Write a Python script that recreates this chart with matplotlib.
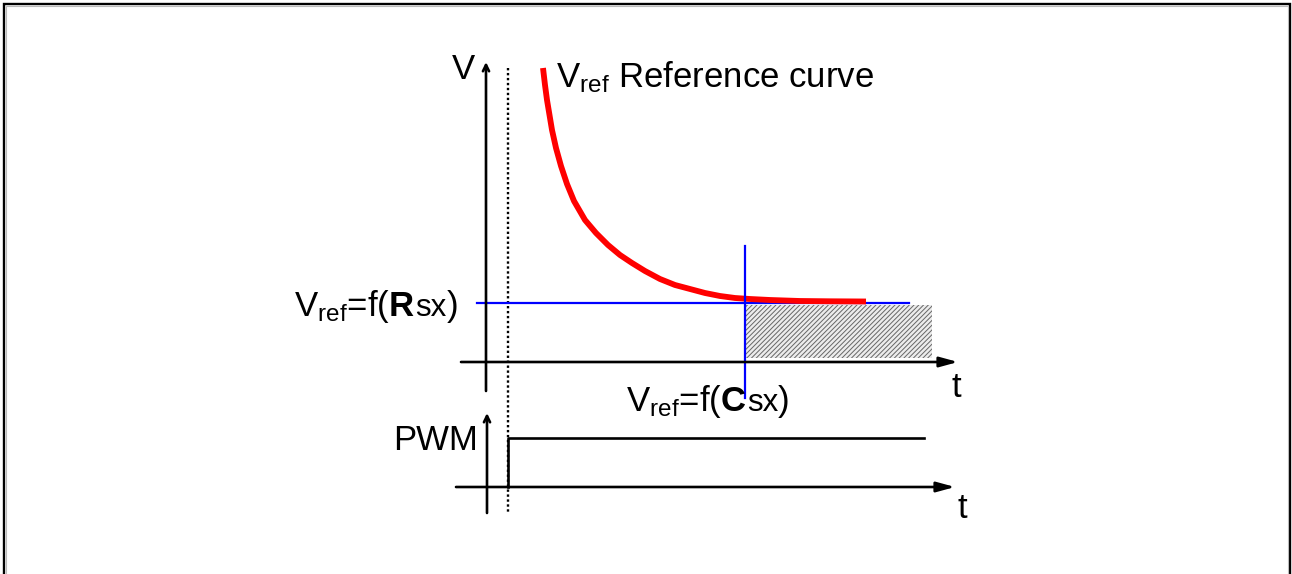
import matplotlib
matplotlib.use("Agg")
import matplotlib.pyplot as plt
from matplotlib.patches import Rectangle

plt.rcParams['font.family'] = ['Liberation Sans', 'DejaVu Sans']
plt.rcParams['mathtext.fontset'] = 'custom'
plt.rcParams['mathtext.rm'] = 'Liberation Sans'
plt.rcParams['mathtext.bf'] = 'Liberation Sans:bold'
plt.rcParams['mathtext.it'] = 'Liberation Sans:italic'
plt.rcParams['hatch.linewidth'] = 0.7

# ---- data (diagram units = pixel space of the schematic) ----
curve_t = [543, 545, 547, 549, 552, 556, 561, 567, 574, 585, 596, 608, 620,
           632, 645, 660, 675, 690, 705, 720, 735, 750, 770, 800, 830, 866]
curve_v = [68, 85, 100, 112, 130, 148, 166, 184, 201, 220, 233, 245, 255,
           263, 271, 279, 285, 289, 293, 296, 298, 299, 300, 301, 301.3, 301.5]

v_axis_x = [486, 486]
v_axis_y = [391, 62]
t_axis_x = [461, 958]
t_axis_y = [362, 362]
dotted_x = [508, 508]
dotted_y = [68, 514]
ref_level_x = [477, 909]
ref_level_y = [303, 303]
cross_x = [745, 745]
cross_y = [246, 398]
hatch_box = [746, 305, 932, 358]  # x0, y0, x1, y1

pwm_axis_x = [487, 487]
pwm_axis_y = [513, 413]
pwm_t_x = [456, 955]
pwm_t_y = [487, 487]
pwm_step_x = [508, 508, 924]
pwm_step_y = [487, 438, 438]

labels = {
    'V': 'V',
    'curve': r'V$_{\mathrm{ref}}$ Reference curve',
    'rsx_a': r'V$_{\mathrm{ref}}$=f($\mathbf{R}$',
    'csx_a': r'V$_{\mathrm{ref}}$=f($\mathbf{C}$',
    'sx': 'sx',
    'close': ')',
    't': 't',
    'pwm': 'PWM',
}

fig = plt.figure(figsize=(12.92, 5.74), dpi=100)
ax = fig.add_axes([0, 0, 1, 1])
ax.set_xlim(0, 1292)
ax.set_ylim(574, 0)
ax.axis('off')

# outer frame
ax.plot([4, 4, 1290, 1290], [580, 4, 4, 580], color='black', lw=1.7, solid_joinstyle='miter')
ax.plot([6, 6, 1288, 1288], [580, 6, 6, 580], color='#bbbbbb', lw=0.8, solid_joinstyle='miter')

fs = 25
lw_ax = 1.9

def arrow(xs, ys, style):
    ax.annotate('', xy=(xs[1], ys[1]), xytext=(xs[0], ys[0]),
                arrowprops=dict(arrowstyle=style, color='black', lw=lw_ax,
                                shrinkA=0, shrinkB=0))

# upper diagram
arrow(v_axis_x, v_axis_y, '->,head_length=0.45,head_width=0.22')
arrow(t_axis_x, t_axis_y, '-|>,head_length=1.1,head_width=0.3')
ax.plot(dotted_x, dotted_y, color='#000000', lw=1.7, linestyle=(0, (1, 1.1)))

x0, y0, x1, y1 = hatch_box
ax.add_patch(Rectangle((x0, y0), x1 - x0, y1 - y0, facecolor='#ececec',
                       edgecolor='#666666', hatch='///////', lw=0))

ax.plot(ref_level_x, ref_level_y, color='#0000ff', lw=1.6)
ax.plot(curve_t, curve_v, color='#ff0000', lw=4.2, solid_capstyle='butt',
        solid_joinstyle='round')
ax.plot(cross_x, cross_y, color='#0000ff', lw=1.6)

# lower diagram
arrow(pwm_axis_x, pwm_axis_y, '->,head_length=0.45,head_width=0.22')
arrow(pwm_t_x, pwm_t_y, '-|>,head_length=1.1,head_width=0.3')
ax.plot(pwm_step_x, pwm_step_y, color='black', lw=lw_ax)

# texts
ax.text(452, 79, labels['V'], fontsize=fs, ha='left', va='baseline')
ax.text(556, 87, labels['curve'], fontsize=fs, ha='left', va='baseline')


def compound(x, y, align):
    parts = [ax.text(0, y, labels[k], fontsize=s, ha='left', va='baseline')
             for k, s in ((align[0], fs), ('sx', fs * 0.9), ('close', fs))]
    fig.canvas.draw()
    inv = ax.transData.inverted()
    widths = []
    for p in parts:
        b = p.get_window_extent().transformed(inv)
        widths.append(abs(b.x1 - b.x0))
    total = sum(widths)
    left = x - total if align[1] == 'right' else x - total / 2
    for p, w in zip(parts, widths):
        p.set_x(left)
        left += w


compound(458, 316, ('rsx_a', 'right'))
compound(708, 411, ('csx_a', 'center'))

ax.text(952, 397, labels['t'], fontsize=fs, ha='left', va='baseline')
ax.text(958, 518, labels['t'], fontsize=fs, ha='left', va='baseline')
ax.text(478, 450, labels['pwm'], fontsize=fs, ha='right', va='baseline')

fig.savefig('out.png', dpi=100)
